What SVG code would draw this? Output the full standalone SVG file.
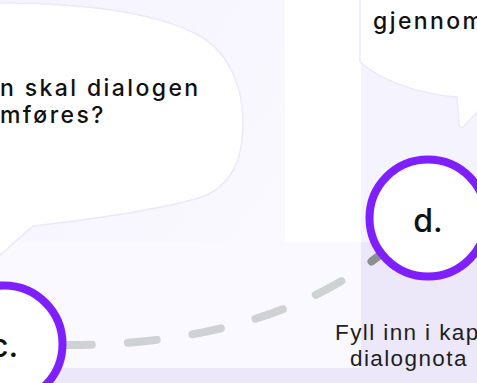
<svg xmlns="http://www.w3.org/2000/svg" width="477" height="383" viewBox="0 0 477 383">
<style>
.q{font-family:Inter,"Liberation Sans",sans-serif;font-size:23px;font-weight:500;fill:#111;letter-spacing:2.4px}
.s{font-family:"Liberation Sans",Arial,sans-serif;font-size:22.5px;fill:#1e1e1e;letter-spacing:1.4px}
.lbl{font-family:Inter,"Liberation Sans",sans-serif;font-size:32px;font-weight:500;fill:#111;text-anchor:middle}
.ring{fill:#fff;stroke:#7f1ffe;stroke-width:8}
.bub{fill:#fff;stroke:#ebe8fb;stroke-width:1.5}
.dash{fill:none;stroke-width:8;stroke-linecap:round;stroke-dasharray:29 36}
</style>
<defs>
<linearGradient id="bg" x1="0" y1="0" x2="1" y2="1">
<stop offset="0" stop-color="#f5f3fd"/>
<stop offset="1" stop-color="#fbfaff"/>
</linearGradient>
<clipPath id="inD"><rect x="361" y="242" width="116" height="141"/></clipPath>
<clipPath id="outD"><path d="M0 0H477V242H361V383H0Z"/></clipPath>
</defs>
<rect width="477" height="383" fill="#fff"/>
<g id="backdrop">
<rect x="0" y="0" width="285" height="368" fill="url(#bg)"/>
<rect x="0" y="242" width="361" height="126" fill="#faf9ff"/>
<rect x="361" y="60" width="116" height="182" fill="#f5f3fd"/>
<rect x="361" y="242" width="116" height="141" fill="#ece8fa"/>
<rect x="0" y="368" width="361" height="15" fill="#ece8fa"/>
</g>
<g id="bubble-left">
<path class="bub" d="M-20 3 C60 2 150 8 200 36 C232 55 244 92 243 127 C242 160 232 185 202 197 C160 210 80 221 33 226 L-2 257 L-20 257 Z"/>
<text class="q" x="0" y="96">n skal dialogen</text>
<text class="q" x="0" y="123">mføres?</text>
</g>
<g id="bubble-right">
<path class="bub" d="M360 -5 L360 62 C380 80 418 94 457 97 L459 126 Q461 129 464 126 L478 111 L478 -5 Z"/>
<text class="q" x="373" y="29">gjennom</text>
</g>
<g id="connectors">
<path class="dash" stroke="#cfd2d2" clip-path="url(#outD)" d="M63 345 C170 346 290 325 380 255"/>
<path class="dash" stroke="#8b8f8f" clip-path="url(#inD)" d="M63 345 C170 346 290 325 380 255"/>
</g>
<g id="node-c">
<circle class="ring" cx="4" cy="344" r="58.5"/>
<text class="lbl" x="4" y="357">c.</text>
</g>
<g id="node-d">
<circle class="ring" cx="428" cy="218" r="58.5"/>
<text class="lbl" x="428" y="232">d.</text>
</g>
<g id="note-d">
<text class="s" x="335" y="340">Fyll inn i kap</text>
<text class="s" x="350" y="366">dialognota</text>
</g>
</svg>
